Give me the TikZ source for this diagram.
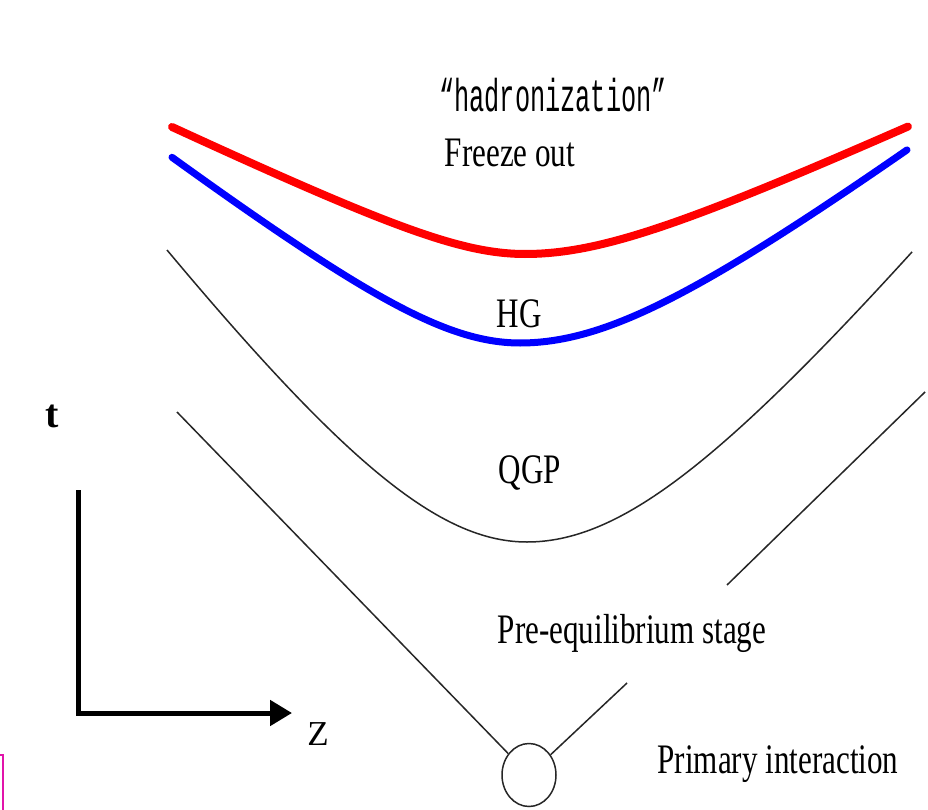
\documentclass[tikz,border=0pt]{standalone}
\usepackage{fontspec}
\usepackage{graphicx}
\setmainfont{Liberation Serif}
\newfontfamily\typefont{Liberation Mono}
\usetikzlibrary{arrows.meta,shapes.geometric}
\tikzset{
  lbl/.style={anchor=base, inner sep=0pt, font=\fontsize{42}{46}\selectfont},
  worldline/.style={draw=black!85, line width=1.5pt, line join=round},
  redline/.style={draw=red, line width=8pt, line cap=round, line join=round},
  blueline/.style={draw=blue, line width=7pt, line cap=round, line join=round},
  axisline/.style={draw=black, line width=5pt},
}
\begin{document}
\begin{tikzpicture}[x=1pt,y=-1pt]
\useasboundingbox (0,0) rectangle (928,810);
\fill[white] (0,0) rectangle (928,810);

% texts
\node[lbl, font=\fontsize{46}{50}\selectfont] (had) at (553,112) {\scalebox{0.55}[1]{\typefont “hadronization”}};
\node[lbl] (frz) at (510,167) {\scalebox{0.74}[1]{Freeze out}};
\node[lbl] (hg) at (519,327) {\scalebox{0.74}[1]{HG}};
\node[lbl] (qgp) at (530,483) {\scalebox{0.74}[1]{QGP}};
\node[lbl] (pre) at (632,643) {\scalebox{0.74}[1]{Pre-equilibrium stage}};
\node[lbl] (prim) at (778,773) {\scalebox{0.74}[1]{Primary interaction}};
\node[lbl, font=\fontsize{40}{44}\selectfont\bfseries] (tlab) at (52,427) {t};
\node[lbl, font=\fontsize{35}{38}\selectfont] (zlab) at (318,745) {Z};

% freeze-out (red) curve
\draw[redline]
  plot[domain=172:525, samples=70] (\x, {254 + 48.8 - 100*sqrt(0.488*0.488 + 0.229*((\x-525)/100)^2)})
  -- plot[domain=525:908, samples=70] (\x, {254 + 59.4 - 100*sqrt(0.594*0.594 + 0.214*((\x-525)/100)^2)});
% hadronization (blue) curve
\draw[blueline]
  plot[domain=172:520, samples=70] (\x, {343 + 100.5 - 100*sqrt(1.005*1.005 + 0.593*((\x-520)/100)^2)})
  -- plot[domain=520:907, samples=70] (\x, {343 + 122.2 - 100*sqrt(1.222*1.222 + 0.564*((\x-520)/100)^2)});

% QGP boundary
\draw[worldline]
  plot[domain=167:527, samples=80] (\x, {542 + 263 - 100*sqrt(2.63*2.63 + 1.843*((\x-527)/100)^2)})
  -- plot[domain=527:912, samples=80] (\x, {542 + 246.7 - 100*sqrt(2.467*2.467 + 1.533*((\x-527)/100)^2)});

% primary interaction and light-cone lines
\node[draw=black!85, line width=1.5pt, ellipse, minimum width=54pt, minimum height=63pt, inner sep=0pt] (pi) at (529,775) {};
\coordinate (lc1) at (177,412);
\coordinate (rc1) at (925,392);
\coordinate (rc2) at (727,585);
\coordinate (rc3) at (627,683);
\draw[worldline] (lc1) -- (pi);
\draw[worldline] (rc1) -- (rc2);
\draw[worldline] (rc3) -- (pi);

% axes
\coordinate (ttop) at (78,490);
\coordinate (orig) at (78,713);
\coordinate (ztip) at (292,713);
\draw[axisline, -{Triangle[length=22pt,width=25pt]}] (ttop) -- (orig) -- (ztip);

% magenta frame edge
\draw[draw={rgb,255:red,225;green,20;blue,170}, line width=2pt] (0,755) -- (3,755) -- (3,810);
\end{tikzpicture}
\end{document}
